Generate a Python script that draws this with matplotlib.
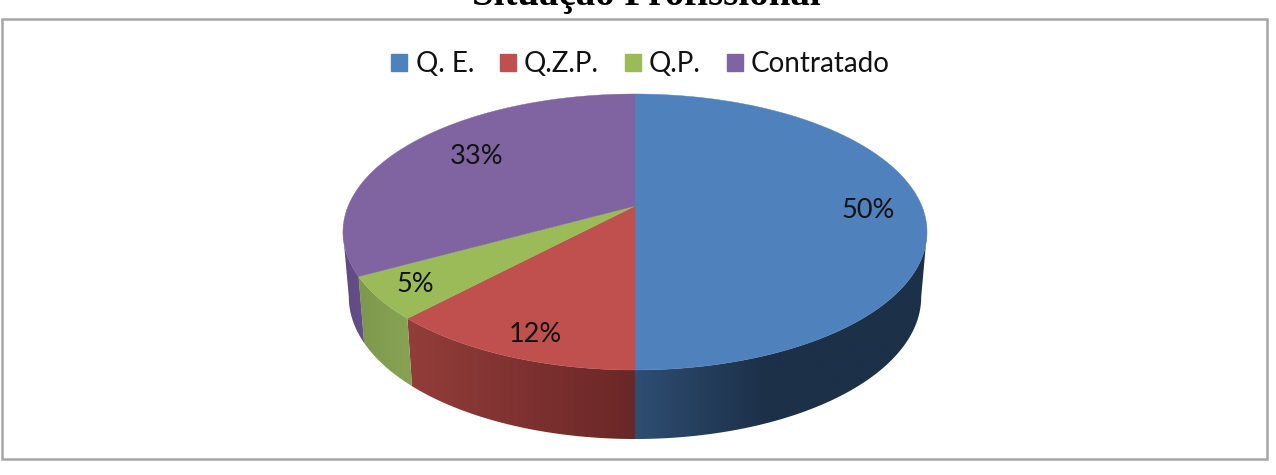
import numpy as np
import matplotlib
matplotlib.use('Agg')
import matplotlib.pyplot as plt
from matplotlib.colors import to_rgb
from matplotlib.patches import Patch, Polygon, Rectangle

# Dados do grafico
categorias = ['Q. E.', 'Q.Z.P.', 'Q.P.', 'Contratado']
percentagens = [50, 12, 5, 33]
titulo = 'Situação Profissional'

cores = ['#4f81bd', '#c0504d', '#9bbb59', '#8064a2']
# Cor da parede lateral: tom perto do centro e tom no extremo
lateral = [('#2e4e72', '#1c3048', 635, 765),
           ('#6a2727', '#933d3a', 635, 406),
           ('#86a152', '#7e994d', 400, 360),
           ('#644e88', '#5f4a80', 360, 345)]
pos_rotulos = [(868, 211), (535, 334), (415, 285), (477, 156)]

# Geometria do disco em perspetiva (pixeis)
CX, CY = 635, 206
A, C, K = 133.1, 0.1884, 286.8
# Fracao onde o contorno do disco e mais largo: a parede so e visivel entre estes limites
FRAC_LADO = np.arccos(-C) / (2 * np.pi)


def rim(frac):
    """Ponto do bordo superior, fracao medida a partir do topo no sentido horario"""
    ang = 2 * np.pi * np.asarray(frac)
    u, v = np.sin(ang), np.cos(ang)
    den = 1 + C * v
    return CX + K * u / den, CY - A * v / den, v


def rim_base(frac):
    """Ponto correspondente no bordo inferior da parede lateral"""
    x, y, v = rim(frac)
    return CX + (x - CX) * 0.98, y + 64 - 5 * v


def tom(i, x):
    c0, c1, x0, x1 = lateral[i]
    t = np.clip((x - x0) / (x1 - x0), 0, 1)[..., None]
    return (1 - t) * np.array(to_rgb(c0)) + t * np.array(to_rgb(c1))


fig = plt.figure(figsize=(12.76, 4.75), dpi=100)
ax = fig.add_axes([0, 0, 1, 1])
ax.axis('off')

ax.add_patch(Rectangle((1.5, 19), 1265.5, 440, fc='white', ec='#a6a6a6', lw=1.8))
ax.text(646, 5.5, titulo, family='Liberation Serif', weight='bold', fontsize=28,
        ha='center', va='baseline', color='black')

limites = np.concatenate([[0], np.cumsum(percentagens)]) / sum(percentagens)

# Paredes laterais: degrade horizontal recortado pelo contorno de cada fatia
for i in range(len(percentagens)):
    ini, fim = max(limites[i], FRAC_LADO), min(limites[i + 1], 1 - FRAC_LADO)
    if fim <= ini:
        continue
    fr = np.linspace(ini, fim, 200)
    xs, ys, _ = rim(fr)
    bx, by = rim_base(fr)
    contorno = np.column_stack([np.r_[xs, bx[::-1]], np.r_[ys, by[::-1]]])
    x0, x1 = contorno[:, 0].min() - 1, contorno[:, 0].max() + 1
    y0, y1 = contorno[:, 1].min() - 1, contorno[:, 1].max() + 1
    colunas = np.linspace(x0, x1, 256)
    img = ax.imshow(tom(i, colunas)[None, :, :], extent=(x0, x1, y1, y0), aspect='auto',
                    interpolation='bilinear', zorder=1)
    clip = Polygon(contorno, transform=ax.transData)
    img.set_clip_path(clip)

# Face superior
for i, cor in enumerate(cores):
    fr = np.linspace(limites[i], limites[i + 1], 200)
    xs, ys, _ = rim(fr)
    pts = np.column_stack([np.r_[CX, xs], np.r_[CY, ys]])
    ax.add_patch(Polygon(pts, fc=cor, ec=cor, lw=0.3, zorder=2))

for valor, (x, y) in zip(percentagens, pos_rotulos):
    ax.text(x, y, f'{valor}%', family='Lato', fontsize=19.5, ha='center', va='center',
            color='#111111', zorder=3)

handles = [Patch(fc=c, ec=c, label=n) for c, n in zip(cores, categorias)]
ax.legend(handles=handles, ncol=4, loc='center', bbox_to_anchor=(640.5, 64),
          bbox_transform=ax.transData, frameon=False,
          prop={'family': 'Lato', 'size': 20}, labelcolor='#111111',
          handlelength=0.58, handleheight=0.58, handletextpad=0.29, columnspacing=0.93,
          borderpad=0, borderaxespad=0)

ax.set_xlim(0, 1276)
ax.set_ylim(475, 0)

fig.savefig('out.png', dpi=100, facecolor='white')
